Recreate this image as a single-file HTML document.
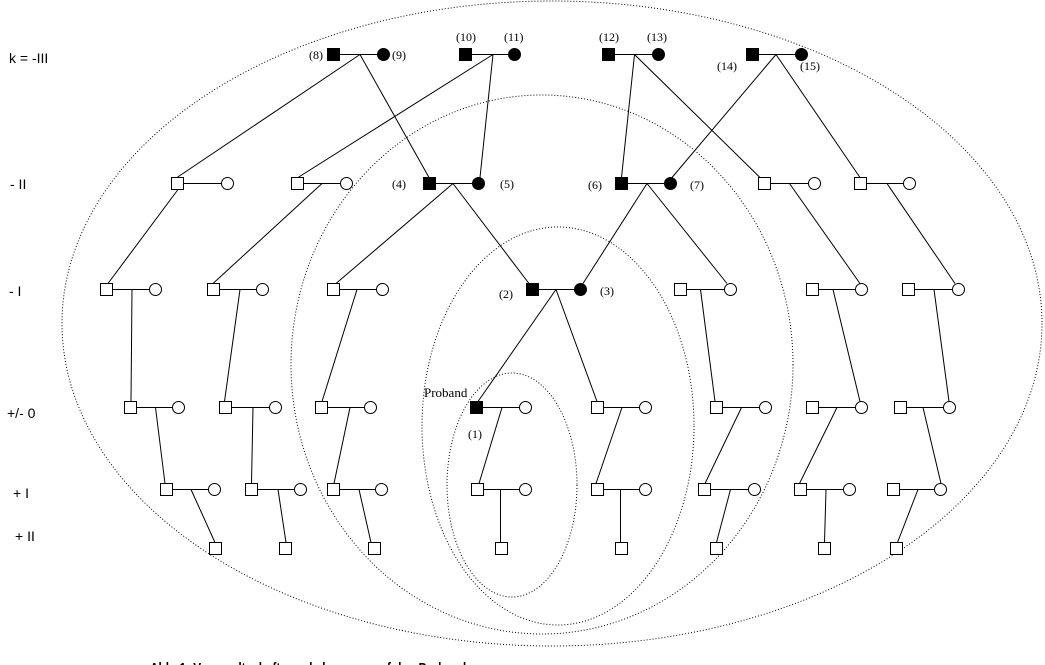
<!DOCTYPE html>
<html>
<head>
<meta charset="utf-8">
<style>
html,body{margin:0;padding:0;background:#fff;}
body{width:1045px;height:665px;overflow:hidden;}
svg{display:block;}
.lbl{font-family:"Liberation Sans",sans-serif;font-size:14px;fill:#000;}
.num{font-family:"Liberation Serif",serif;font-size:12px;fill:#000;}
</style>
</head>
<body>
<svg width="1045" height="665" viewBox="0 0 1045 665" xmlns="http://www.w3.org/2000/svg">
<rect width="1045" height="665" fill="#fff"/>

<!-- dotted ellipses -->
<g fill="none" stroke="#000" stroke-width="1" stroke-dasharray="1,2">
  <ellipse cx="552" cy="323.5" rx="490" ry="322.5"/>
  <ellipse cx="542" cy="364.5" rx="251" ry="269.5"/>
  <ellipse cx="558" cy="426" rx="136" ry="199"/>
  <ellipse cx="512" cy="485" rx="65" ry="112"/>
</g>

<!-- left labels -->
<text class="lbl" x="9" y="63">k = -III</text>
<text class="lbl" x="10" y="189">- II</text>
<text class="lbl" x="9" y="296">- I</text>
<text class="lbl" x="7" y="418">+/- 0</text>
<text class="lbl" x="13" y="498">+ I</text>
<text class="lbl" x="15" y="541">+ II</text>

<!-- number labels -->
<text class="num" x="309" y="59">(8)</text>
<text class="num" x="392" y="59">(9)</text>
<text class="num" x="456" y="41">(10)</text>
<text class="num" x="504" y="41">(11)</text>
<text class="num" x="599" y="41">(12)</text>
<text class="num" x="647" y="41">(13)</text>
<text class="num" x="717" y="70">(14)</text>
<text class="num" x="800" y="70">(15)</text>
<text class="num" x="392" y="188">(4)</text>
<text class="num" x="500" y="188">(5)</text>
<text class="num" x="588" y="189">(6)</text>
<text class="num" x="690" y="189">(7)</text>
<text class="num" x="499" y="298">(2)</text>
<text class="num" x="600" y="295">(3)</text>
<text class="num" x="424" y="397" style="font-size:13px">Proband</text>
<text class="num" x="468" y="438">(1)</text>

<!-- lines -->
<g stroke="#000" stroke-width="1" fill="none">
  <!-- marriage lines -->
  <path d="M340 54.5H377 M472 54.5H508 M615 54.5H652 M759 54.5H795"/>
  <path d="M184 183.5H221 M304 183.5H340 M436 183.5H472 M628 183.5H664 M771 183.5H808 M867 183.5H903"/>
  <path d="M113 289.5H149 M220 289.5H256 M340 289.5H376 M539 289.5H574 M687 289.5H724 M819 289.5H855 M915 289.5H952"/>
  <path d="M137 407.5H172 M232 407.5H269 M328 407.5H364 M483 407.5H519 M604 407.5H639 M723 407.5H759 M819 407.5H855 M907 407.5H943"/>
  <path d="M173 489.5H208 M258 489.5H294 M340 489.5H375 M484 489.5H519 M604 489.5H639 M711 489.5H748 M807 489.5H843 M900 489.5H934"/>
  <!-- -III to -II -->
  <path d="M360 54.5L177 177.5 M360 54.5L429 177.5 M493 54.5L298 177.5 M493 54.5L480 177.5"/>
  <path d="M634.5 54.5L621.5 177.5 M634.5 54.5L760 177.5 M776 54.5L672 177.5 M776 54.5L860 177.5"/>
  <!-- -II to -I -->
  <path d="M178 189.5L108 283.5 M322 183.5L213 283.5 M453 183.5L336 283.5 M453 183.5L529 283.5"/>
  <path d="M647 183.5L583 283.5 M647 183.5L727 283.5 M789.5 183.5L860 283.5 M887 183.5L955 283.5"/>
  <!-- -I to 0 -->
  <path d="M132 289.5L131 401.5 M240 289.5L224.5 401.5 M357 289.5L322 401.5 M556 289.5L478 401.5"/>
  <path d="M556 289.5L597 401.5 M700.5 289.5L715 401.5 M833 289.5L860 401.5 M934 289.5L949 401.5"/>
  <!-- 0 to +I -->
  <path d="M155.5 407.5L165 483.5 M253 407.5L251.5 483.5 M350 407.5L334 483.5 M502 407.5L479 483.5"/>
  <path d="M622 407.5L596 483.5 M741.5 407.5L705 483.5 M837 407.5L799.5 483.5 M923 407.5L941 483.5"/>
  <!-- +I to +II -->
  <path d="M191 489.5L215 542.5 M278 489.5L286 542.5 M359 489.5L371 542.5 M500.5 489.5L500.5 542.5"/>
  <path d="M620.5 489.5L620.5 542.5 M730.5 489.5L716.5 542.5 M826 489.5L824.5 542.5 M918 489.5L897.5 542.5"/>
</g>

<!-- filled squares -->
<g fill="#000" stroke="#000" stroke-width="1">
  <rect x="327.5" y="48.5" width="12" height="12"/>
  <rect x="459.5" y="48.5" width="12" height="12"/>
  <rect x="602.5" y="48.5" width="12" height="12"/>
  <rect x="746.5" y="48.5" width="12" height="12"/>
  <rect x="423.5" y="177.5" width="12" height="12"/>
  <rect x="615.5" y="177.5" width="12" height="12"/>
  <rect x="526.5" y="283.5" width="12" height="12"/>
  <rect x="470.5" y="401.5" width="12" height="12"/>
  <!-- filled circles -->
  <circle cx="383.5" cy="54.5" r="6"/>
  <circle cx="514.5" cy="54.5" r="6"/>
  <circle cx="658.5" cy="54.5" r="6"/>
  <circle cx="801.5" cy="54.5" r="6"/>
  <circle cx="478.5" cy="183.5" r="6"/>
  <circle cx="670.5" cy="183.5" r="6"/>
  <circle cx="580.5" cy="289.5" r="6"/>
</g>

<!-- open squares -->
<g fill="#fff" stroke="#000" stroke-width="1">
  <!-- -II -->
  <rect x="171.5" y="177.5" width="12" height="12"/>
  <rect x="291.5" y="177.5" width="12" height="12"/>
  <rect x="758.5" y="177.5" width="12" height="12"/>
  <rect x="854.5" y="177.5" width="12" height="12"/>
  <!-- -I -->
  <rect x="100.5" y="283.5" width="12" height="12"/>
  <rect x="207.5" y="283.5" width="12" height="12"/>
  <rect x="327.5" y="283.5" width="12" height="12"/>
  <rect x="674.5" y="283.5" width="12" height="12"/>
  <rect x="806.5" y="283.5" width="12" height="12"/>
  <rect x="902.5" y="283.5" width="12" height="12"/>
  <!-- 0 -->
  <rect x="124.5" y="401.5" width="12" height="12"/>
  <rect x="219.5" y="401.5" width="12" height="12"/>
  <rect x="315.5" y="401.5" width="12" height="12"/>
  <rect x="591.5" y="401.5" width="12" height="12"/>
  <rect x="710.5" y="401.5" width="12" height="12"/>
  <rect x="806.5" y="401.5" width="12" height="12"/>
  <rect x="894.5" y="401.5" width="12" height="12"/>
  <!-- +I -->
  <rect x="160.5" y="483.5" width="12" height="12"/>
  <rect x="245.5" y="483.5" width="12" height="12"/>
  <rect x="327.5" y="483.5" width="12" height="12"/>
  <rect x="471.5" y="483.5" width="12" height="12"/>
  <rect x="591.5" y="483.5" width="12" height="12"/>
  <rect x="698.5" y="483.5" width="12" height="12"/>
  <rect x="794.5" y="483.5" width="12" height="12"/>
  <rect x="887.5" y="483.5" width="12" height="12"/>
  <!-- +II -->
  <rect x="209.5" y="542.5" width="12" height="12"/>
  <rect x="279.5" y="542.5" width="12" height="12"/>
  <rect x="368.5" y="542.5" width="12" height="12"/>
  <rect x="495.5" y="542.5" width="12" height="12"/>
  <rect x="615.5" y="542.5" width="12" height="12"/>
  <rect x="710.5" y="542.5" width="12" height="12"/>
  <rect x="818.5" y="542.5" width="12" height="12"/>
  <rect x="890.5" y="542.5" width="12" height="12"/>

  <!-- open circles -->
  <circle cx="227.5" cy="183.5" r="6"/>
  <circle cx="346.5" cy="183.5" r="6"/>
  <circle cx="814.5" cy="183.5" r="6"/>
  <circle cx="909.5" cy="183.5" r="6"/>

  <circle cx="155.5" cy="289.5" r="6"/>
  <circle cx="262.5" cy="289.5" r="6"/>
  <circle cx="382.5" cy="289.5" r="6"/>
  <circle cx="730.5" cy="289.5" r="6"/>
  <circle cx="861.5" cy="289.5" r="6"/>
  <circle cx="958.5" cy="289.5" r="6"/>

  <circle cx="178.5" cy="407.5" r="6"/>
  <circle cx="275.5" cy="407.5" r="6"/>
  <circle cx="370.5" cy="407.5" r="6"/>
  <circle cx="525.5" cy="407.5" r="6"/>
  <circle cx="645.5" cy="407.5" r="6"/>
  <circle cx="765.5" cy="407.5" r="6"/>
  <circle cx="861.5" cy="407.5" r="6"/>
  <circle cx="949.5" cy="407.5" r="6"/>

  <circle cx="214.5" cy="489.5" r="6"/>
  <circle cx="300.5" cy="489.5" r="6"/>
  <circle cx="381.5" cy="489.5" r="6"/>
  <circle cx="525.5" cy="489.5" r="6"/>
  <circle cx="645.5" cy="489.5" r="6"/>
  <circle cx="754.5" cy="489.5" r="6"/>
  <circle cx="849.5" cy="489.5" r="6"/>
  <circle cx="940.5" cy="489.5" r="6"/>
</g>

<!-- clipped caption at bottom edge -->
<text x="150" y="673" style="font-family:'Liberation Sans',sans-serif;font-size:15px;font-weight:bold;fill:#000" textLength="330" lengthAdjust="spacingAndGlyphs">Abb. 1: Verwandtschaftsgrade bezogen auf den Probanden</text>
</svg>
</body>
</html>
